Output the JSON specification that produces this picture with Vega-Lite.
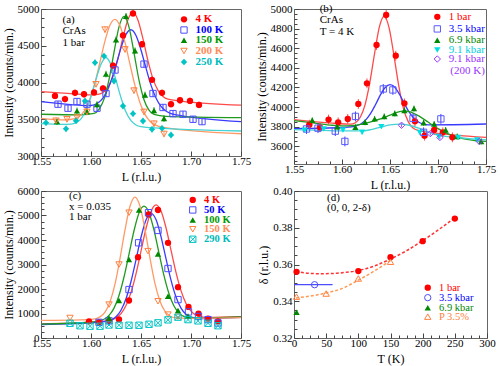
{
"$schema": "https://vega.github.io/schema/vega-lite/v6.json",
"padding": {"left": 1, "top": 2, "right": 3, "bottom": 1},
"background": "white",
"bounds": "flush",
"columns": 2,
"spacing": {"row": 27, "column": 53},
"resolve": {"scale": {"color": "independent", "shape": "independent"}, "legend": {"color": "independent", "shape": "independent"}},
"config": {
  "font": "Liberation Serif",
  "view": {"stroke": "#666", "strokeWidth": 1},
  "axis": {"domain": false, "grid": false, "tickColor": "#444", "tickWidth": 1, "tickCount": 100, "labelFontSize": 11, "labelColor": "#000", "labelFont": "Liberation Serif", "labelOverlap": false, "labelFlush": false, "titleFont": "Liberation Serif", "titleFontSize": 12, "titleFontWeight": "normal", "titleColor": "#000"},
  "axisX": {"labelPadding": 4.5},
  "axisY": {"labelPadding": 7},
  "legend": {"padding": 0, "labelFont": "Liberation Serif", "labelFontSize": 11, "symbolSize": 40, "symbolStrokeWidth": 1, "rowPadding": 0, "labelOffset": 6, "orient": "none"},
  "title": {"font": "Liberation Serif", "fontSize": 11, "fontWeight": "normal", "anchor": "start", "frame": "group", "align": "center", "baseline": "top", "color": "#000"}
},
"datasets": {
"a_pts": [
{"s":"4 K","L":1.564,"I":3818,"err":45},{"s":"4 K","L":1.574,"I":3775,"err":45},{"s":"4 K","L":1.584,"I":3860,"err":45},{"s":"4 K","L":1.593,"I":3840,"err":45},{"s":"4 K","L":1.603,"I":3865,"err":45},{"s":"4 K","L":1.612,"I":3920,"err":45},{"s":"4 K","L":1.622,"I":4230,"err":45},{"s":"4 K","L":1.632,"I":4640,"err":45},{"s":"4 K","L":1.642,"I":4940,"err":45},{"s":"4 K","L":1.651,"I":4520,"err":45},{"s":"4 K","L":1.661,"I":4036,"err":45},{"s":"4 K","L":1.671,"I":3860,"err":45},{"s":"4 K","L":1.680,"I":3705,"err":45},{"s":"4 K","L":1.689,"I":3759,"err":45},{"s":"4 K","L":1.699,"I":3750,"err":45},{"s":"4 K","L":1.708,"I":3695,"err":45},
{"s":"100 K","L":1.567,"I":3705,"err":45},{"s":"100 K","L":1.577,"I":3650,"err":45},{"s":"100 K","L":1.586,"I":3741,"err":45},{"s":"100 K","L":1.596,"I":3705,"err":45},{"s":"100 K","L":1.606,"I":3650,"err":45},{"s":"100 K","L":1.615,"I":3850,"err":45},{"s":"100 K","L":1.624,"I":4170,"err":45},{"s":"100 K","L":1.653,"I":4250,"err":45},{"s":"100 K","L":1.662,"I":3850,"err":45},{"s":"100 K","L":1.672,"I":3660,"err":45},{"s":"100 K","L":1.682,"I":3577,"err":45},{"s":"100 K","L":1.692,"I":3568,"err":45},{"s":"100 K","L":1.702,"I":3500,"err":45},{"s":"100 K","L":1.711,"I":3468,"err":45},
{"s":"150 K","L":1.566,"I":3468,"err":45},{"s":"150 K","L":1.586,"I":3614,"err":45},{"s":"150 K","L":1.596,"I":3605,"err":45},{"s":"150 K","L":1.606,"I":3700,"err":45},{"s":"150 K","L":1.615,"I":4114,"err":45},{"s":"150 K","L":1.625,"I":4582,"err":45},{"s":"150 K","L":1.635,"I":4900,"err":45},{"s":"150 K","L":1.644,"I":4432,"err":45},{"s":"150 K","L":1.654,"I":3830,"err":45},{"s":"150 K","L":1.663,"I":3620,"err":45},{"s":"150 K","L":1.673,"I":3510,"err":45},
{"s":"200 K","L":1.565,"I":3480,"err":45},{"s":"200 K","L":1.576,"I":3500,"err":45},{"s":"200 K","L":1.586,"I":3523,"err":45},{"s":"200 K","L":1.596,"I":3600,"err":45},{"s":"200 K","L":1.605,"I":3976,"err":45},{"s":"200 K","L":1.614,"I":4720,"err":45},{"s":"200 K","L":1.634,"I":4450,"err":45},{"s":"200 K","L":1.643,"I":3890,"err":45},{"s":"200 K","L":1.653,"I":3600,"err":45},{"s":"200 K","L":1.663,"I":3440,"err":45},{"s":"200 K","L":1.673,"I":3300,"err":45},
{"s":"250 K","L":1.555,"I":3453,"err":45},{"s":"250 K","L":1.575,"I":3370,"err":45},{"s":"250 K","L":1.585,"I":3480,"err":45},{"s":"250 K","L":1.594,"I":3748,"err":45},{"s":"250 K","L":1.604,"I":4270,"err":45},{"s":"250 K","L":1.613,"I":4360,"err":45},{"s":"250 K","L":1.623,"I":4020,"err":45},{"s":"250 K","L":1.632,"I":3680,"err":45},{"s":"250 K","L":1.642,"I":3576,"err":45},{"s":"250 K","L":1.652,"I":3476,"err":45},{"s":"250 K","L":1.661,"I":3363,"err":45},{"s":"250 K","L":1.671,"I":3377,"err":45},{"s":"250 K","L":1.680,"I":3286,"err":45}
],
"a_fit": [
{"s":"4 K","L":1.55,"I":3877},{"s":"4 K","L":1.58,"I":3849},{"s":"4 K","L":1.60,"I":3831},{"s":"4 K","L":1.607,"I":3839},{"s":"4 K","L":1.612,"I":3865},{"s":"4 K","L":1.617,"I":3938},{"s":"4 K","L":1.622,"I":4086},{"s":"4 K","L":1.627,"I":4323},{"s":"4 K","L":1.632,"I":4612},{"s":"4 K","L":1.637,"I":4857},{"s":"4 K","L":1.642,"I":4953},{"s":"4 K","L":1.647,"I":4848},{"s":"4 K","L":1.652,"I":4593},{"s":"4 K","L":1.657,"I":4295},{"s":"4 K","L":1.662,"I":4049},{"s":"4 K","L":1.667,"I":3892},{"s":"4 K","L":1.672,"I":3810},{"s":"4 K","L":1.677,"I":3774},{"s":"4 K","L":1.69,"I":3748},{"s":"4 K","L":1.75,"I":3692},
{"s":"100 K","L":1.55,"I":3741},{"s":"100 K","L":1.58,"I":3700},{"s":"100 K","L":1.595,"I":3685},{"s":"100 K","L":1.60,"I":3687},{"s":"100 K","L":1.605,"I":3707},{"s":"100 K","L":1.61,"I":3756},{"s":"100 K","L":1.615,"I":3856},{"s":"100 K","L":1.62,"I":4018},{"s":"100 K","L":1.625,"I":4237},{"s":"100 K","L":1.63,"I":4471},{"s":"100 K","L":1.635,"I":4654},{"s":"100 K","L":1.64,"I":4718},{"s":"100 K","L":1.645,"I":4640},{"s":"100 K","L":1.65,"I":4443},{"s":"100 K","L":1.655,"I":4196},{"s":"100 K","L":1.66,"I":3964},{"s":"100 K","L":1.665,"I":3788},{"s":"100 K","L":1.67,"I":3674},{"s":"100 K","L":1.675,"I":3611},{"s":"100 K","L":1.68,"I":3577},{"s":"100 K","L":1.69,"I":3550},{"s":"100 K","L":1.75,"I":3468},
{"s":"150 K","L":1.55,"I":3568},{"s":"150 K","L":1.59,"I":3559},{"s":"150 K","L":1.603,"I":3579},{"s":"150 K","L":1.608,"I":3635},{"s":"150 K","L":1.613,"I":3774},{"s":"150 K","L":1.618,"I":4039},{"s":"150 K","L":1.623,"I":4409},{"s":"150 K","L":1.628,"I":4756},{"s":"150 K","L":1.633,"I":4899},{"s":"150 K","L":1.638,"I":4754},{"s":"150 K","L":1.643,"I":4404},{"s":"150 K","L":1.648,"I":4032},{"s":"150 K","L":1.653,"I":3765},{"s":"150 K","L":1.658,"I":3623},{"s":"150 K","L":1.663,"I":3565},{"s":"150 K","L":1.675,"I":3540},{"s":"150 K","L":1.75,"I":3523},
{"s":"200 K","L":1.55,"I":3513},{"s":"200 K","L":1.574,"I":3491},{"s":"200 K","L":1.584,"I":3507},{"s":"200 K","L":1.589,"I":3546},{"s":"200 K","L":1.594,"I":3629},{"s":"200 K","L":1.599,"I":3778},{"s":"200 K","L":1.604,"I":3999},{"s":"200 K","L":1.609,"I":4279},{"s":"200 K","L":1.614,"I":4566},{"s":"200 K","L":1.619,"I":4782},{"s":"200 K","L":1.624,"I":4860},{"s":"200 K","L":1.629,"I":4772},{"s":"200 K","L":1.634,"I":4545},{"s":"200 K","L":1.639,"I":4247},{"s":"200 K","L":1.644,"I":3957},{"s":"200 K","L":1.649,"I":3725},{"s":"200 K","L":1.654,"I":3566},{"s":"200 K","L":1.659,"I":3472},{"s":"200 K","L":1.664,"I":3423},{"s":"200 K","L":1.674,"I":3386},{"s":"200 K","L":1.75,"I":3303},
{"s":"250 K","L":1.55,"I":3440},{"s":"250 K","L":1.57,"I":3430},{"s":"250 K","L":1.58,"I":3434},{"s":"250 K","L":1.585,"I":3452},{"s":"250 K","L":1.59,"I":3506},{"s":"250 K","L":1.595,"I":3619},{"s":"250 K","L":1.60,"I":3808},{"s":"250 K","L":1.605,"I":4042},{"s":"250 K","L":1.61,"I":4247},{"s":"250 K","L":1.615,"I":4340},{"s":"250 K","L":1.62,"I":4242},{"s":"250 K","L":1.625,"I":4032},{"s":"250 K","L":1.63,"I":3793},{"s":"250 K","L":1.635,"I":3599},{"s":"250 K","L":1.64,"I":3481},{"s":"250 K","L":1.645,"I":3422},{"s":"250 K","L":1.65,"I":3399},{"s":"250 K","L":1.66,"I":3385},{"s":"250 K","L":1.75,"I":3340}
],
"b_pts": [
{"s":"1 bar","L":1.566,"I":3821,"err":50},{"s":"1 bar","L":1.577,"I":3794,"err":50},{"s":"1 bar","L":1.586,"I":3873,"err":50},{"s":"1 bar","L":1.596,"I":3845,"err":50},{"s":"1 bar","L":1.606,"I":3879,"err":50},{"s":"1 bar","L":1.617,"I":4032,"err":50},{"s":"1 bar","L":1.626,"I":4242,"err":50},{"s":"1 bar","L":1.636,"I":4633,"err":50},{"s":"1 bar","L":1.646,"I":4939,"err":50},{"s":"1 bar","L":1.656,"I":4524,"err":50},{"s":"1 bar","L":1.665,"I":4038,"err":50},{"s":"1 bar","L":1.676,"I":3855,"err":50},{"s":"1 bar","L":1.686,"I":3709,"err":50},{"s":"1 bar","L":1.696,"I":3767,"err":50},{"s":"1 bar","L":1.705,"I":3743,"err":50},{"s":"1 bar","L":1.715,"I":3692,"err":50},
{"s":"3.5 kbar","L":1.563,"I":3777,"err":50},{"s":"3.5 kbar","L":1.575,"I":3785,"err":50},{"s":"3.5 kbar","L":1.593,"I":3755,"err":50},{"s":"3.5 kbar","L":1.603,"I":3650,"err":50},{"s":"3.5 kbar","L":1.614,"I":3905,"err":50},{"s":"3.5 kbar","L":1.643,"I":4185,"err":50},{"s":"3.5 kbar","L":1.653,"I":4175,"err":50},{"s":"3.5 kbar","L":1.674,"I":3885,"err":50},{"s":"3.5 kbar","L":1.685,"I":3743,"err":50},{"s":"3.5 kbar","L":1.703,"I":3880,"err":50},
{"s":"6.9 kbar","L":1.569,"I":3865,"err":30},{"s":"6.9 kbar","L":1.595,"I":3800,"err":30},{"s":"6.9 kbar","L":1.614,"I":3795,"err":30},{"s":"6.9 kbar","L":1.624,"I":3845,"err":30},{"s":"6.9 kbar","L":1.634,"I":3880,"err":30},{"s":"6.9 kbar","L":1.644,"I":3905,"err":30},{"s":"6.9 kbar","L":1.655,"I":3935,"err":30},{"s":"6.9 kbar","L":1.665,"I":3965,"err":30},{"s":"6.9 kbar","L":1.675,"I":3985,"err":30},{"s":"6.9 kbar","L":1.685,"I":3840,"err":30},{"s":"6.9 kbar","L":1.696,"I":3827,"err":30},{"s":"6.9 kbar","L":1.708,"I":3767,"err":30},{"s":"6.9 kbar","L":1.72,"I":3700,"err":30},{"s":"6.9 kbar","L":1.745,"I":3650,"err":30},
{"s":"9.1 kbar","L":1.561,"I":3765,"err":20},{"s":"9.1 kbar","L":1.581,"I":3777,"err":20},{"s":"9.1 kbar","L":1.601,"I":3767,"err":20},{"s":"9.1 kbar","L":1.621,"I":3743,"err":20},{"s":"9.1 kbar","L":1.641,"I":3801,"err":20},{"s":"9.1 kbar","L":1.681,"I":3740,"err":20},{"s":"9.1 kbar","L":1.701,"I":3700,"err":20},{"s":"9.1 kbar","L":1.721,"I":3690,"err":20},{"s":"9.1 kbar","L":1.741,"I":3665,"err":20},
{"s":"9.1 kbar (200 K)","L":1.662,"I":3815,"err":20},{"s":"9.1 kbar (200 K)","L":1.692,"I":3730,"err":20},{"s":"9.1 kbar (200 K)","L":1.702,"I":3690,"err":20},{"s":"9.1 kbar (200 K)","L":1.743,"I":3650,"err":20}
],
"b_fit": [
{"s":"1 bar","L":1.55,"I":3872},{"s":"1 bar","L":1.59,"I":3836},{"s":"1 bar","L":1.609,"I":3826},{"s":"1 bar","L":1.614,"I":3841},{"s":"1 bar","L":1.619,"I":3897},{"s":"1 bar","L":1.624,"I":4023},{"s":"1 bar","L":1.629,"I":4251},{"s":"1 bar","L":1.634,"I":4551},{"s":"1 bar","L":1.639,"I":4820},{"s":"1 bar","L":1.644,"I":4927},{"s":"1 bar","L":1.649,"I":4811},{"s":"1 bar","L":1.654,"I":4533},{"s":"1 bar","L":1.659,"I":4224},{"s":"1 bar","L":1.664,"I":3987},{"s":"1 bar","L":1.669,"I":3852},{"s":"1 bar","L":1.674,"I":3787},{"s":"1 bar","L":1.679,"I":3763},{"s":"1 bar","L":1.69,"I":3746},{"s":"1 bar","L":1.75,"I":3692},
{"s":"3.5 kbar","L":1.55,"I":3780},{"s":"3.5 kbar","L":1.60,"I":3792},{"s":"3.5 kbar","L":1.61,"I":3799},{"s":"3.5 kbar","L":1.615,"I":3810},{"s":"3.5 kbar","L":1.62,"I":3831},{"s":"3.5 kbar","L":1.625,"I":3872},{"s":"3.5 kbar","L":1.63,"I":3938},{"s":"3.5 kbar","L":1.635,"I":4027},{"s":"3.5 kbar","L":1.64,"I":4124},{"s":"3.5 kbar","L":1.645,"I":4200},{"s":"3.5 kbar","L":1.65,"I":4229},{"s":"3.5 kbar","L":1.655,"I":4202},{"s":"3.5 kbar","L":1.66,"I":4128},{"s":"3.5 kbar","L":1.665,"I":4035},{"s":"3.5 kbar","L":1.67,"I":3948},{"s":"3.5 kbar","L":1.675,"I":3884},{"s":"3.5 kbar","L":1.68,"I":3845},{"s":"3.5 kbar","L":1.685,"I":3826},{"s":"3.5 kbar","L":1.69,"I":3819},{"s":"3.5 kbar","L":1.75,"I":3828},
{"s":"6.9 kbar","L":1.55,"I":3862},{"s":"6.9 kbar","L":1.57,"I":3840},{"s":"6.9 kbar","L":1.59,"I":3815},{"s":"6.9 kbar","L":1.60,"I":3808},{"s":"6.9 kbar","L":1.61,"I":3810},{"s":"6.9 kbar","L":1.62,"I":3825},{"s":"6.9 kbar","L":1.63,"I":3850},{"s":"6.9 kbar","L":1.64,"I":3880},{"s":"6.9 kbar","L":1.65,"I":3918},{"s":"6.9 kbar","L":1.66,"I":3955},{"s":"6.9 kbar","L":1.665,"I":3962},{"s":"6.9 kbar","L":1.67,"I":3955},{"s":"6.9 kbar","L":1.68,"I":3910},{"s":"6.9 kbar","L":1.69,"I":3845},{"s":"6.9 kbar","L":1.70,"I":3780},{"s":"6.9 kbar","L":1.71,"I":3730},{"s":"6.9 kbar","L":1.72,"I":3695},{"s":"6.9 kbar","L":1.73,"I":3672},{"s":"6.9 kbar","L":1.75,"I":3650},
{"s":"9.1 kbar","L":1.55,"I":3770},{"s":"9.1 kbar","L":1.58,"I":3763},{"s":"9.1 kbar","L":1.60,"I":3757},{"s":"9.1 kbar","L":1.62,"I":3757},{"s":"9.1 kbar","L":1.63,"I":3770},{"s":"9.1 kbar","L":1.64,"I":3795},{"s":"9.1 kbar","L":1.65,"I":3818},{"s":"9.1 kbar","L":1.66,"I":3826},{"s":"9.1 kbar","L":1.67,"I":3815},{"s":"9.1 kbar","L":1.68,"I":3785},{"s":"9.1 kbar","L":1.69,"I":3745},{"s":"9.1 kbar","L":1.70,"I":3715},{"s":"9.1 kbar","L":1.72,"I":3690},{"s":"9.1 kbar","L":1.75,"I":3665}
],
"c_pts": [
{"s":"4 K","L":1.598,"I":680},{"s":"4 K","L":1.608,"I":650},{"s":"4 K","L":1.618,"I":690},{"s":"4 K","L":1.628,"I":760},{"s":"4 K","L":1.638,"I":1530},{"s":"4 K","L":1.647,"I":3300},{"s":"4 K","L":1.6575,"I":5045},{"s":"4 K","L":1.667,"I":5223},{"s":"4 K","L":1.677,"I":3886},{"s":"4 K","L":1.687,"I":2073},{"s":"4 K","L":1.6975,"I":1268},{"s":"4 K","L":1.7075,"I":995},{"s":"4 K","L":1.717,"I":791},{"s":"4 K","L":1.727,"I":682},
{"s":"50 K","L":1.608,"I":640},{"s":"50 K","L":1.618,"I":700},{"s":"50 K","L":1.638,"I":1977},{"s":"50 K","L":1.6476,"I":3886},{"s":"50 K","L":1.6575,"I":5114},{"s":"50 K","L":1.667,"I":4391},{"s":"50 K","L":1.677,"I":2836},{"s":"50 K","L":1.687,"I":1568},{"s":"50 K","L":1.6975,"I":1064},{"s":"50 K","L":1.7075,"I":880},{"s":"50 K","L":1.717,"I":750},{"s":"50 K","L":1.727,"I":614},
{"s":"100 K","L":1.618,"I":820},{"s":"100 K","L":1.628,"I":1527},{"s":"100 K","L":1.638,"I":3205},{"s":"100 K","L":1.648,"I":5223},{"s":"100 K","L":1.667,"I":3430},{"s":"100 K","L":1.677,"I":1705},{"s":"100 K","L":1.687,"I":1118},{"s":"100 K","L":1.697,"I":900},
{"s":"150 K","L":1.579,"I":818},{"s":"150 K","L":1.618,"I":1364},{"s":"150 K","L":1.628,"I":3000},{"s":"150 K","L":1.638,"I":5114},{"s":"150 K","L":1.657,"I":3545},{"s":"150 K","L":1.667,"I":1500},{"s":"150 K","L":1.677,"I":955},{"s":"150 K","L":1.687,"I":870},
{"s":"290 K","L":1.579,"I":600},{"s":"290 K","L":1.589,"I":500},{"s":"290 K","L":1.599,"I":480},{"s":"290 K","L":1.609,"I":480},{"s":"290 K","L":1.618,"I":530},{"s":"290 K","L":1.628,"I":520},{"s":"290 K","L":1.638,"I":520},{"s":"290 K","L":1.648,"I":520},{"s":"290 K","L":1.658,"I":560},{"s":"290 K","L":1.667,"I":620},{"s":"290 K","L":1.677,"I":740},{"s":"290 K","L":1.687,"I":850},{"s":"290 K","L":1.697,"I":750},{"s":"290 K","L":1.707,"I":700},{"s":"290 K","L":1.717,"I":600},{"s":"290 K","L":1.727,"I":500}
],
"c_fit": [
{"s":"4 K","L":1.55,"I":580},{"s":"4 K","L":1.60,"I":652},{"s":"4 K","L":1.615,"I":694},{"s":"4 K","L":1.625,"I":818},{"s":"4 K","L":1.63,"I":994},{"s":"4 K","L":1.635,"I":1324},{"s":"4 K","L":1.64,"I":1861},{"s":"4 K","L":1.645,"I":2621},{"s":"4 K","L":1.65,"I":3545},{"s":"4 K","L":1.655,"I":4470},{"s":"4 K","L":1.66,"I":5166},{"s":"4 K","L":1.665,"I":5430},{"s":"4 K","L":1.67,"I":5180},{"s":"4 K","L":1.675,"I":4499},{"s":"4 K","L":1.68,"I":3588},{"s":"4 K","L":1.685,"I":2679},{"s":"4 K","L":1.69,"I":1933},{"s":"4 K","L":1.695,"I":1411},{"s":"4 K","L":1.70,"I":1095},{"s":"4 K","L":1.705,"I":934},{"s":"4 K","L":1.715,"I":839},{"s":"4 K","L":1.75,"I":870},
{"s":"50 K","L":1.55,"I":550},{"s":"50 K","L":1.60,"I":622},{"s":"50 K","L":1.61,"I":646},{"s":"50 K","L":1.62,"I":734},{"s":"50 K","L":1.625,"I":869},{"s":"50 K","L":1.63,"I":1135},{"s":"50 K","L":1.635,"I":1602},{"s":"50 K","L":1.64,"I":2305},{"s":"50 K","L":1.645,"I":3193},{"s":"50 K","L":1.65,"I":4111},{"s":"50 K","L":1.655,"I":4819},{"s":"50 K","L":1.66,"I":5089},{"s":"50 K","L":1.665,"I":4834},{"s":"50 K","L":1.67,"I":4140},{"s":"50 K","L":1.675,"I":3236},{"s":"50 K","L":1.68,"I":2363},{"s":"50 K","L":1.685,"I":1675},{"s":"50 K","L":1.69,"I":1222},{"s":"50 K","L":1.695,"I":970},{"s":"50 K","L":1.70,"I":850},{"s":"50 K","L":1.71,"I":791},{"s":"50 K","L":1.75,"I":840},
{"s":"100 K","L":1.55,"I":570},{"s":"100 K","L":1.60,"I":642},{"s":"100 K","L":1.603,"I":661},{"s":"100 K","L":1.613,"I":764},{"s":"100 K","L":1.618,"I":921},{"s":"100 K","L":1.623,"I":1221},{"s":"100 K","L":1.628,"I":1736},{"s":"100 K","L":1.633,"I":2489},{"s":"100 K","L":1.638,"I":3424},{"s":"100 K","L":1.643,"I":4377},{"s":"100 K","L":1.648,"I":5102},{"s":"100 K","L":1.653,"I":5379},{"s":"100 K","L":1.658,"I":5117},{"s":"100 K","L":1.663,"I":4406},{"s":"100 K","L":1.668,"I":3467},{"s":"100 K","L":1.673,"I":2547},{"s":"100 K","L":1.678,"I":1809},{"s":"100 K","L":1.683,"I":1308},{"s":"100 K","L":1.688,"I":1022},{"s":"100 K","L":1.693,"I":880},{"s":"100 K","L":1.703,"I":806},{"s":"100 K","L":1.75,"I":860},
{"s":"150 K","L":1.55,"I":720},{"s":"150 K","L":1.59,"I":742},{"s":"150 K","L":1.604,"I":785},{"s":"150 K","L":1.609,"I":863},{"s":"150 K","L":1.614,"I":1059},{"s":"150 K","L":1.619,"I":1475},{"s":"150 K","L":1.624,"I":2200},{"s":"150 K","L":1.629,"I":3244},{"s":"150 K","L":1.634,"I":4416},{"s":"150 K","L":1.639,"I":5376},{"s":"150 K","L":1.644,"I":5752},{"s":"150 K","L":1.649,"I":5382},{"s":"150 K","L":1.654,"I":4427},{"s":"150 K","L":1.659,"I":3260},{"s":"150 K","L":1.664,"I":2222},{"s":"150 K","L":1.669,"I":1503},{"s":"150 K","L":1.674,"I":1092},{"s":"150 K","L":1.679,"I":901},{"s":"150 K","L":1.684,"I":829},{"s":"150 K","L":1.70,"I":803},{"s":"150 K","L":1.75,"I":830}
],
"d_pts": [
{"s":"1 bar","T":4,"d":0.356},{"s":"1 bar","T":100,"d":0.3564},{"s":"1 bar","T":150,"d":0.364},{"s":"1 bar","T":200,"d":0.3727},{"s":"1 bar","T":250,"d":0.385},
{"s":"3.5 kbar","T":32,"d":0.349},
{"s":"6.9 kbar","T":4,"d":0.334},
{"s":"P 3.5%","T":4,"d":0.3425},{"s":"P 3.5%","T":50,"d":0.3442},{"s":"P 3.5%","T":100,"d":0.3524},{"s":"P 3.5%","T":150,"d":0.3615}
],
"d_range": [{"s":"3.5 kbar","T0":0,"T1":60,"d":0.349}],
"d_fit": [
{"s":"1 bar","T":3,"d":0.3562},{"s":"1 bar","T":20,"d":0.3553},{"s":"1 bar","T":40,"d":0.355},{"s":"1 bar","T":60,"d":0.3551},{"s":"1 bar","T":80,"d":0.3557},{"s":"1 bar","T":100,"d":0.3567},{"s":"1 bar","T":125,"d":0.3592},{"s":"1 bar","T":150,"d":0.363},{"s":"1 bar","T":175,"d":0.3675},{"s":"1 bar","T":200,"d":0.373},{"s":"1 bar","T":225,"d":0.379},{"s":"1 bar","T":250,"d":0.3855},
{"s":"P 3.5%","T":3,"d":0.3418},{"s":"P 3.5%","T":25,"d":0.3428},{"s":"P 3.5%","T":50,"d":0.3445},{"s":"P 3.5%","T":75,"d":0.347},{"s":"P 3.5%","T":100,"d":0.3515},{"s":"P 3.5%","T":125,"d":0.3565},{"s":"P 3.5%","T":150,"d":0.3622}
]
},
"concat": [
{
 "width": 200, "height": 147,
 "title": {"text": ["(a)", "CrAs", "1 bar"], "dx": 21.5, "offset": -44.5, "lineHeight": 11.5},
 "resolve": {"scale": {"shape": "independent"}, "legend": {"shape": "independent"}},
 "layer": [
  {"data": {"name": "a_fit"}, "mark": {"type": "line", "interpolate": "monotone", "strokeWidth": 1.3},
   "encoding": {
    "x": {"field": "L", "type": "quantitative", "scale": {"domain": [1.55, 1.75], "nice": false}, "title": "L (r.l.u.)",
      "axis": {"values": [1.55,1.5625,1.575,1.5875,1.6,1.6125,1.625,1.6375,1.65,1.6625,1.675,1.6875,1.7,1.7125,1.725,1.7375,1.75], "tickCount": 100, "labelOverlap": false, "labelExpr": "abs(datum.value*20 - round(datum.value*20)) < 0.01 ? format(datum.value, '.2f') : ''", "tickSize": {"expr": "abs(datum.value*20 - round(datum.value*20)) < 0.01 ? -5 : -3"}, "titlePadding": 3}},
    "y": {"field": "I", "type": "quantitative", "scale": {"domain": [3000, 5000], "nice": false}, "title": "Intensity (counts/min.)",
      "axis": {"values": [3000,3125,3250,3375,3500,3625,3750,3875,4000,4125,4250,4375,4500,4625,4750,4875,5000], "tickCount": 100, "labelOverlap": false, "labelExpr": "datum.value % 500 == 0 ? format(datum.value, 'd') : ''", "tickSize": {"expr": "datum.value % 500 == 0 ? -5 : -3"}, "titlePadding": 2}},
    "color": {"field": "s", "type": "nominal", "scale": {"domain": ["4 K","100 K","150 K","200 K","250 K"], "range": ["#ff4a4a","#3a3aff","#1f9a1f","#ff9a66","#45d3d3"]}, "legend": null}
   }},
  {"data": {"name": "a_pts"}, "mark": {"type": "errorbar", "ticks": false, "thickness": 1},
   "encoding": {
    "x": {"field": "L", "type": "quantitative", "title": "L (r.l.u.)"},
    "y": {"field": "I", "type": "quantitative", "title": "Intensity (counts/min.)"},
    "yError": {"field": "err"},
    "color": {"field": "s", "type": "nominal", "scale": {"domain": ["4 K","100 K","150 K","200 K","250 K"], "range": ["#ff4a4a","#3a3aff","#1f9a1f","#ff9a66","#45d3d3"]}, "legend": null}
   }},
  {"data": {"name": "a_pts"}, "transform": [{"filter": "datum.s == '4 K'"}], "mark": {"type": "point", "opacity": 1, "size": 40, "strokeWidth": 1, "filled": true, "color": "#ff0000"},
   "encoding": {"x": {"field": "L", "type": "quantitative", "title": "L (r.l.u.)"}, "y": {"field": "I", "type": "quantitative", "title": "Intensity (counts/min.)"},
    "shape": {"field": "s", "type": "nominal", "scale": {"domain": ["4 K"], "range": ["circle"]}, "legend": {"title": null, "orient": "none", "legendX": 137.5, "legendY": 4.8, "labelFontWeight": "bold", "labelColor": "#ff0000", "symbolFillColor": "#ff0000", "symbolStrokeColor": "#ff0000"}}}},
  {"data": {"name": "a_pts"}, "transform": [{"filter": "datum.s == '100 K'"}], "mark": {"type": "point", "opacity": 1, "size": 40, "strokeWidth": 1, "filled": false, "color": "#4d4dff"},
   "encoding": {"x": {"field": "L", "type": "quantitative", "title": "L (r.l.u.)"}, "y": {"field": "I", "type": "quantitative", "title": "Intensity (counts/min.)"},
    "shape": {"field": "s", "type": "nominal", "scale": {"domain": ["100 K"], "range": ["square"]}, "legend": {"title": null, "orient": "none", "legendX": 137.5, "legendY": 15.5, "labelFontWeight": "bold", "labelColor": "#0000ff", "symbolFillColor": "transparent", "symbolStrokeColor": "#4d4dff"}}}},
  {"data": {"name": "a_pts"}, "transform": [{"filter": "datum.s == '150 K'"}], "mark": {"type": "point", "opacity": 1, "size": 40, "strokeWidth": 1, "filled": true, "color": "#008800"},
   "encoding": {"x": {"field": "L", "type": "quantitative", "title": "L (r.l.u.)"}, "y": {"field": "I", "type": "quantitative", "title": "Intensity (counts/min.)"},
    "shape": {"field": "s", "type": "nominal", "scale": {"domain": ["150 K"], "range": ["triangle-up"]}, "legend": {"title": null, "orient": "none", "legendX": 137.5, "legendY": 25.8, "labelFontWeight": "bold", "labelColor": "#009900", "symbolFillColor": "#008800", "symbolStrokeColor": "#008800"}}}},
  {"data": {"name": "a_pts"}, "transform": [{"filter": "datum.s == '200 K'"}], "mark": {"type": "point", "opacity": 1, "size": 40, "strokeWidth": 1, "filled": false, "color": "#ff8040"},
   "encoding": {"x": {"field": "L", "type": "quantitative", "title": "L (r.l.u.)"}, "y": {"field": "I", "type": "quantitative", "title": "Intensity (counts/min.)"},
    "shape": {"field": "s", "type": "nominal", "scale": {"domain": ["200 K"], "range": ["triangle-down"]}, "legend": {"title": null, "orient": "none", "legendX": 137.5, "legendY": 36.5, "labelFontWeight": "bold", "labelColor": "#ff8c5a", "symbolFillColor": "transparent", "symbolStrokeColor": "#ff8040"}}}},
  {"data": {"name": "a_pts"}, "transform": [{"filter": "datum.s == '250 K'"}], "mark": {"type": "point", "opacity": 1, "size": 40, "strokeWidth": 1, "filled": true, "color": "#00c4c4"},
   "encoding": {"x": {"field": "L", "type": "quantitative", "title": "L (r.l.u.)"}, "y": {"field": "I", "type": "quantitative", "title": "Intensity (counts/min.)"},
    "shape": {"field": "s", "type": "nominal", "scale": {"domain": ["250 K"], "range": ["diamond"]}, "legend": {"title": null, "orient": "none", "legendX": 137.5, "legendY": 47.5, "labelFontWeight": "bold", "labelColor": "#00bbbb", "symbolFillColor": "#00c4c4", "symbolStrokeColor": "#00c4c4"}}}}
 ]
},
{
 "width": 192, "height": 155,
 "title": {"text": ["(b)", "CrAs", "T = 4 K"], "dx": 25.7, "offset": -34, "lineHeight": 11.7},
 "resolve": {"scale": {"shape": "independent"}, "legend": {"shape": "independent"}},
 "layer": [
  {"data": {"name": "b_fit"}, "mark": {"type": "line", "interpolate": "monotone", "strokeWidth": 1.3},
   "encoding": {
    "x": {"field": "L", "type": "quantitative", "scale": {"domain": [1.55, 1.75], "nice": false}, "title": "L (r.l.u.)",
      "axis": {"values": [1.55,1.5625,1.575,1.5875,1.6,1.6125,1.625,1.6375,1.65,1.6625,1.675,1.6875,1.7,1.7125,1.725,1.7375,1.75], "tickCount": 100, "labelOverlap": false, "labelExpr": "abs(datum.value*20 - round(datum.value*20)) < 0.01 ? format(datum.value, '.2f') : ''", "tickSize": {"expr": "abs(datum.value*20 - round(datum.value*20)) < 0.01 ? -5 : -3"}, "titlePadding": 3}},
    "y": {"field": "I", "type": "quantitative", "scale": {"domain": [3420, 5000], "nice": false}, "title": "Intensity (counts/min.)",
      "axis": {"values": [3450,3500,3550,3600,3650,3700,3750,3800,3850,3900,3950,4000,4050,4100,4150,4200,4250,4300,4350,4400,4450,4500,4550,4600,4650,4700,4750,4800,4850,4900,4950,5000], "tickCount": 100, "labelOverlap": false, "labelExpr": "datum.value % 200 == 0 ? format(datum.value, 'd') : ''", "tickSize": {"expr": "datum.value % 200 == 0 ? -5 : -3"}, "titlePadding": 2}},
    "color": {"field": "s", "type": "nominal", "scale": {"domain": ["1 bar","3.5 kbar","6.9 kbar","9.1 kbar","9.1 kbar (200 K)"], "range": ["#ff4a4a","#3a3aff","#1f9a1f","#45d3d3","#a060ff"]}, "legend": null}
   }},
  {"data": {"name": "b_pts"}, "mark": {"type": "errorbar", "ticks": false, "thickness": 1},
   "encoding": {
    "x": {"field": "L", "type": "quantitative", "title": "L (r.l.u.)"},
    "y": {"field": "I", "type": "quantitative", "title": "Intensity (counts/min.)"},
    "yError": {"field": "err"},
    "color": {"field": "s", "type": "nominal", "scale": {"domain": ["1 bar","3.5 kbar","6.9 kbar","9.1 kbar","9.1 kbar (200 K)"], "range": ["#ff4a4a","#3a3aff","#1f9a1f","#45d3d3","#a060ff"]}, "legend": null}
   }},
  {"data": {"name": "b_pts"}, "transform": [{"filter": "datum.s == '1 bar'"}], "mark": {"type": "point", "opacity": 1, "size": 40, "strokeWidth": 1, "filled": true, "color": "#ff0000"},
   "encoding": {"x": {"field": "L", "type": "quantitative", "title": "L (r.l.u.)"}, "y": {"field": "I", "type": "quantitative", "title": "Intensity (counts/min.)"},
    "shape": {"field": "s", "type": "nominal", "scale": {"domain": ["1 bar"], "range": ["circle"]}, "legend": {"title": null, "orient": "none", "legendX": 137.8, "legendY": 2.3, "labelColor": "#ff0000", "symbolFillColor": "#ff0000", "symbolStrokeColor": "#ff0000"}}}},
  {"data": {"name": "b_pts"}, "transform": [{"filter": "datum.s == '3.5 kbar'"}], "mark": {"type": "point", "opacity": 1, "size": 40, "strokeWidth": 1, "filled": false, "color": "#5a5aff"},
   "encoding": {"x": {"field": "L", "type": "quantitative", "title": "L (r.l.u.)"}, "y": {"field": "I", "type": "quantitative", "title": "Intensity (counts/min.)"},
    "shape": {"field": "s", "type": "nominal", "scale": {"domain": ["3.5 kbar"], "range": ["square"]}, "legend": {"title": null, "orient": "none", "legendX": 137.8, "legendY": 14.4, "labelColor": "#0000ff", "symbolFillColor": "transparent", "symbolStrokeColor": "#5a5aff"}}}},
  {"data": {"name": "b_pts"}, "transform": [{"filter": "datum.s == '6.9 kbar'"}], "mark": {"type": "point", "opacity": 1, "size": 40, "strokeWidth": 1, "filled": true, "color": "#008800"},
   "encoding": {"x": {"field": "L", "type": "quantitative", "title": "L (r.l.u.)"}, "y": {"field": "I", "type": "quantitative", "title": "Intensity (counts/min.)"},
    "shape": {"field": "s", "type": "nominal", "scale": {"domain": ["6.9 kbar"], "range": ["triangle-up"]}, "legend": {"title": null, "orient": "none", "legendX": 137.8, "legendY": 25.8, "labelColor": "#008800", "symbolFillColor": "#008800", "symbolStrokeColor": "#008800"}}}},
  {"data": {"name": "b_pts"}, "transform": [{"filter": "datum.s == '9.1 kbar'"}], "mark": {"type": "point", "opacity": 1, "size": 40, "strokeWidth": 1, "filled": true, "color": "#00e0e0"},
   "encoding": {"x": {"field": "L", "type": "quantitative", "title": "L (r.l.u.)"}, "y": {"field": "I", "type": "quantitative", "title": "Intensity (counts/min.)"},
    "shape": {"field": "s", "type": "nominal", "scale": {"domain": ["9.1 kbar"], "range": ["triangle-down"]}, "legend": {"title": null, "orient": "none", "legendX": 137.8, "legendY": 35.5, "labelColor": "#00d0e0", "symbolFillColor": "#00e0e0", "symbolStrokeColor": "#00e0e0"}}}},
  {"data": {"name": "b_pts"}, "transform": [{"filter": "datum.s == '9.1 kbar (200 K)'"}], "mark": {"type": "point", "opacity": 1, "size": 40, "strokeWidth": 1, "filled": false, "color": "#9933ff"},
   "encoding": {"x": {"field": "L", "type": "quantitative", "title": "L (r.l.u.)"}, "y": {"field": "I", "type": "quantitative", "title": "Intensity (counts/min.)"},
    "shape": {"field": "s", "type": "nominal", "scale": {"domain": ["9.1 kbar (200 K)"], "range": ["diamond"]}, "legend": {"title": "(200 K)", "titleOrient": "bottom", "titleAnchor": "end", "titleColor": "#9933ff", "titleFont": "Liberation Serif", "titleFontSize": 11, "titleFontWeight": "normal", "titlePadding": 0, "labelExpr": "'9.1 kbar'", "orient": "none", "legendX": 137.8, "legendY": 44.5, "labelColor": "#9933ff", "symbolFillColor": "transparent", "symbolStrokeColor": "#9933ff"}}}}
 ]
},
{
 "width": 200, "height": 147,
 "title": {"text": ["(c)", "x = 0.035", "1 bar"], "dx": 28, "offset": -37, "lineHeight": 10.5},
 "resolve": {"scale": {"shape": "independent"}, "legend": {"shape": "independent"}},
 "layer": [
  {"data": {"name": "c_fit"}, "mark": {"type": "line", "interpolate": "monotone", "strokeWidth": 1.3},
   "encoding": {
    "x": {"field": "L", "type": "quantitative", "scale": {"domain": [1.55, 1.75], "nice": false}, "title": "L (r.l.u.)",
      "axis": {"values": [1.55,1.5625,1.575,1.5875,1.6,1.6125,1.625,1.6375,1.65,1.6625,1.675,1.6875,1.7,1.7125,1.725,1.7375,1.75], "tickCount": 100, "labelOverlap": false, "labelExpr": "abs(datum.value*20 - round(datum.value*20)) < 0.01 ? format(datum.value, '.2f') : ''", "tickSize": {"expr": "abs(datum.value*20 - round(datum.value*20)) < 0.01 ? -5 : -3"}, "titlePadding": 3}},
    "y": {"field": "I", "type": "quantitative", "scale": {"domain": [0, 6000], "nice": false}, "title": "Intensity (counts/min.)",
      "axis": {"values": [0,250,500,750,1000,1250,1500,1750,2000,2250,2500,2750,3000,3250,3500,3750,4000,4250,4500,4750,5000,5250,5500,5750,6000], "tickCount": 100, "labelOverlap": false, "labelExpr": "datum.value % 1000 == 0 ? format(datum.value, 'd') : ''", "tickSize": {"expr": "datum.value % 1000 == 0 ? -5 : -3"}, "titlePadding": 2}},
    "color": {"field": "s", "type": "nominal", "scale": {"domain": ["4 K","50 K","100 K","150 K","290 K"], "range": ["#ff4a4a","#3a3aff","#1f9a1f","#ff9a66","#45d3d3"]}, "legend": null}
   }},
  {"data": {"name": "c_pts"}, "transform": [{"filter": "datum.s == '4 K'"}], "mark": {"type": "point", "opacity": 1, "size": 40, "strokeWidth": 1, "filled": true, "color": "#ff0000"},
   "encoding": {"x": {"field": "L", "type": "quantitative", "title": "L (r.l.u.)"}, "y": {"field": "I", "type": "quantitative", "title": "Intensity (counts/min.)"},
    "shape": {"field": "s", "type": "nominal", "scale": {"domain": ["4 K"], "range": ["circle"]}, "legend": {"title": null, "orient": "none", "legendX": 146.5, "legendY": 3.7, "labelFontSize": 10.5, "labelFontWeight": "bold", "labelColor": "#ff0000", "symbolFillColor": "#ff0000", "symbolStrokeColor": "#ff0000"}}}},
  {"data": {"name": "c_pts"}, "transform": [{"filter": "datum.s == '50 K'"}], "mark": {"type": "point", "opacity": 1, "size": 40, "strokeWidth": 1, "filled": false, "color": "#4d4dff"},
   "encoding": {"x": {"field": "L", "type": "quantitative", "title": "L (r.l.u.)"}, "y": {"field": "I", "type": "quantitative", "title": "Intensity (counts/min.)"},
    "shape": {"field": "s", "type": "nominal", "scale": {"domain": ["50 K"], "range": ["square"]}, "legend": {"title": null, "orient": "none", "legendX": 146.5, "legendY": 13.7, "labelFontSize": 10.5, "labelFontWeight": "bold", "labelColor": "#0000ff", "symbolFillColor": "transparent", "symbolStrokeColor": "#4d4dff"}}}},
  {"data": {"name": "c_pts"}, "transform": [{"filter": "datum.s == '100 K'"}], "mark": {"type": "point", "opacity": 1, "size": 40, "strokeWidth": 1, "filled": true, "color": "#008800"},
   "encoding": {"x": {"field": "L", "type": "quantitative", "title": "L (r.l.u.)"}, "y": {"field": "I", "type": "quantitative", "title": "Intensity (counts/min.)"},
    "shape": {"field": "s", "type": "nominal", "scale": {"domain": ["100 K"], "range": ["triangle-up"]}, "legend": {"title": null, "orient": "none", "legendX": 146.5, "legendY": 23.7, "labelFontSize": 10.5, "labelFontWeight": "bold", "labelColor": "#009900", "symbolFillColor": "#008800", "symbolStrokeColor": "#008800"}}}},
  {"data": {"name": "c_pts"}, "transform": [{"filter": "datum.s == '150 K'"}], "mark": {"type": "point", "opacity": 1, "size": 40, "strokeWidth": 1, "filled": false, "color": "#ff8040"},
   "encoding": {"x": {"field": "L", "type": "quantitative", "title": "L (r.l.u.)"}, "y": {"field": "I", "type": "quantitative", "title": "Intensity (counts/min.)"},
    "shape": {"field": "s", "type": "nominal", "scale": {"domain": ["150 K"], "range": ["triangle-down"]}, "legend": {"title": null, "orient": "none", "legendX": 146.5, "legendY": 33, "labelFontSize": 10.5, "labelFontWeight": "bold", "labelColor": "#ff8c5a", "symbolFillColor": "transparent", "symbolStrokeColor": "#ff8040"}}}},
  {"data": {"name": "c_pts"}, "transform": [{"filter": "datum.s == '290 K'"}], "mark": {"type": "point", "opacity": 1, "size": 40, "strokeWidth": 1, "filled": false, "color": "#00c4c4"},
   "encoding": {"x": {"field": "L", "type": "quantitative", "title": "L (r.l.u.)"}, "y": {"field": "I", "type": "quantitative", "title": "Intensity (counts/min.)"},
    "shape": {"field": "s", "type": "nominal", "scale": {"domain": ["290 K"], "range": ["M-1,-1H1V1H-1Z M-1,-1L1,1 M-1,1L1,-1"]}, "legend": {"title": null, "orient": "none", "legendX": 146.5, "legendY": 43, "labelFontSize": 10.5, "labelFontWeight": "bold", "labelColor": "#00bbbb", "symbolFillColor": "transparent", "symbolStrokeColor": "#00c4c4"}}}}
 ]
},
{
 "width": 193, "height": 147,
 "title": {"text": ["(d)", "(0, 0, 2-δ)"], "dx": 33, "offset": -28, "lineHeight": 10.5},
 "resolve": {"scale": {"shape": "independent"}, "legend": {"shape": "independent"}},
 "layer": [
  {"data": {"name": "d_fit"}, "mark": {"type": "line", "interpolate": "monotone", "strokeWidth": 1.5, "strokeDash": [3, 2]},
   "encoding": {
    "x": {"field": "T", "type": "quantitative", "scale": {"domain": [0, 300], "nice": false}, "title": "T (K)",
      "axis": {"values": [0,12.5,25,37.5,50,62.5,75,87.5,100,112.5,125,137.5,150,162.5,175,187.5,200,212.5,225,237.5,250,262.5,275,287.5,300], "tickCount": 100, "labelOverlap": false, "labelExpr": "datum.value % 50 == 0 ? format(datum.value, 'd') : ''", "tickSize": {"expr": "datum.value % 50 == 0 ? -5 : -3"}, "titlePadding": 3}},
    "y": {"field": "d", "type": "quantitative", "scale": {"domain": [0.32, 0.40], "nice": false, "zero": false}, "title": "δ (r.l.u.)",
      "axis": {"values": [0.32,0.325,0.33,0.335,0.34,0.345,0.35,0.355,0.36,0.365,0.37,0.375,0.38,0.385,0.39,0.395,0.40], "tickCount": 100, "labelOverlap": false, "labelExpr": "abs(datum.value*50 - round(datum.value*50)) < 0.01 ? format(datum.value, '.2f') : ''", "tickSize": {"expr": "abs(datum.value*50 - round(datum.value*50)) < 0.01 ? -5 : -3"}, "titlePadding": 2}},
    "color": {"field": "s", "type": "nominal", "scale": {"domain": ["1 bar","3.5 kbar","6.9 kbar","P 3.5%"], "range": ["#ff3333","#4d4dff","#008800","#ff9955"]}, "legend": null}
   }},
  {"data": {"name": "d_range"}, "mark": {"type": "rule", "strokeWidth": 1.2},
   "encoding": {
    "x": {"field": "T0", "type": "quantitative", "title": "T (K)"},
    "x2": {"field": "T1"},
    "y": {"field": "d", "type": "quantitative", "title": "δ (r.l.u.)"},
    "color": {"field": "s", "type": "nominal", "scale": {"domain": ["1 bar","3.5 kbar","6.9 kbar","P 3.5%"], "range": ["#ff3333","#4d4dff","#008800","#ff9955"]}, "legend": null}
   }},
  {"data": {"name": "d_pts"}, "transform": [{"filter": "datum.s == '1 bar'"}], "mark": {"type": "point", "opacity": 1, "size": 40, "strokeWidth": 1, "filled": true, "color": "#ff0000"},
   "encoding": {"x": {"field": "T", "type": "quantitative", "title": "T (K)"}, "y": {"field": "d", "type": "quantitative", "title": "δ (r.l.u.)"},
    "shape": {"field": "s", "type": "nominal", "scale": {"domain": ["1 bar"], "range": ["circle"]}, "legend": {"title": null, "orient": "none", "legendX": 128.5, "legendY": 91.4, "labelFontSize": 10.5, "labelColor": "#ff0000", "symbolFillColor": "#ff0000", "symbolStrokeColor": "#ff0000"}}}},
  {"data": {"name": "d_pts"}, "transform": [{"filter": "datum.s == '3.5 kbar'"}], "mark": {"type": "point", "opacity": 1, "size": 40, "strokeWidth": 1, "filled": false, "color": "#4d4dff"},
   "encoding": {"x": {"field": "T", "type": "quantitative", "title": "T (K)"}, "y": {"field": "d", "type": "quantitative", "title": "δ (r.l.u.)"},
    "shape": {"field": "s", "type": "nominal", "scale": {"domain": ["3.5 kbar"], "range": ["circle"]}, "legend": {"title": null, "orient": "none", "legendX": 128.5, "legendY": 101.4, "labelFontSize": 10.5, "labelColor": "#0000ff", "symbolFillColor": "transparent", "symbolStrokeColor": "#4d4dff"}}}},
  {"data": {"name": "d_pts"}, "transform": [{"filter": "datum.s == '6.9 kbar'"}], "mark": {"type": "point", "opacity": 1, "size": 40, "strokeWidth": 1, "filled": true, "color": "#008800"},
   "encoding": {"x": {"field": "T", "type": "quantitative", "title": "T (K)"}, "y": {"field": "d", "type": "quantitative", "title": "δ (r.l.u.)"},
    "shape": {"field": "s", "type": "nominal", "scale": {"domain": ["6.9 kbar"], "range": ["triangle-up"]}, "legend": {"title": null, "orient": "none", "legendX": 128.5, "legendY": 111.4, "labelFontSize": 10.5, "labelColor": "#008800", "symbolFillColor": "#008800", "symbolStrokeColor": "#008800"}}}},
  {"data": {"name": "d_pts"}, "transform": [{"filter": "datum.s == 'P 3.5%'"}], "mark": {"type": "point", "opacity": 1, "size": 40, "strokeWidth": 1, "filled": false, "color": "#ff8040"},
   "encoding": {"x": {"field": "T", "type": "quantitative", "title": "T (K)"}, "y": {"field": "d", "type": "quantitative", "title": "δ (r.l.u.)"},
    "shape": {"field": "s", "type": "nominal", "scale": {"domain": ["P 3.5%"], "range": ["triangle-up"]}, "legend": {"title": null, "orient": "none", "legendX": 128.5, "legendY": 120.4, "labelFontSize": 10.5, "labelColor": "#ff8040", "symbolFillColor": "transparent", "symbolStrokeColor": "#ff8040"}}}}
 ]
}
]
}
